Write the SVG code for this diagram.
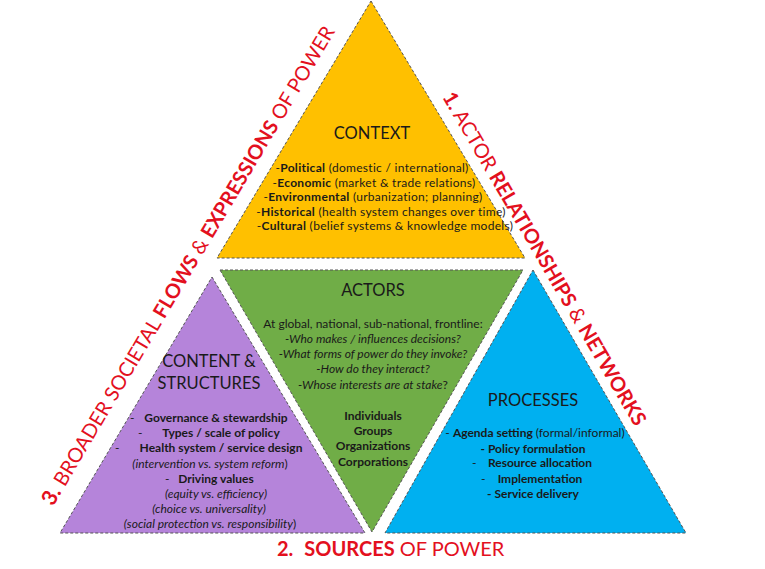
<svg xmlns="http://www.w3.org/2000/svg" width="765" height="569" viewBox="0 0 765 569">
<style>
.tri{stroke:#555;stroke-width:1;stroke-dasharray:3,2}
text{font-family:Lato,"Open Sans","Liberation Sans",sans-serif;fill:#1a1a1a}
.t{font-size:16.5px;text-anchor:middle}
.b{font-size:12px;text-anchor:middle}
.c{font-size:12px;text-anchor:middle;letter-spacing:0.3px}
.s{font-size:12px}
.bo{font-weight:bold}
.it{font-style:italic}
.red{fill:#E3101E;font-size:20px}
</style>
<rect width="765" height="569" fill="#fff"/>
<g id="context">
<polygon class="tri" points="371,1 525,258 217,258" fill="#FFC000"/>
<text class="t" x="372" y="139">CONTEXT</text>
<text class="c" x="372" y="172">-<tspan class="bo">Political</tspan> (domestic / international)</text>
<text class="c" x="374" y="186.5">-<tspan class="bo">Economic</tspan> (market &amp; trade relations)</text>
<text class="c" x="373" y="201">-<tspan class="bo">Environmental</tspan> (urbanization; planning)</text>
<text class="c" x="381" y="215.5">-<tspan class="bo">Historical</tspan> (health system changes over time)</text>
<text class="c" x="385" y="230">-<tspan class="bo">Cultural</tspan> (belief systems &amp; knowledge models)</text>
</g>
<g id="actors">
<polygon class="tri" points="220,270 523,270 372,532" fill="#70AD47"/>
<text class="t" x="373" y="296">ACTORS</text>
<text class="b" x="373" y="328">At global, national, sub-national, frontline:</text>
<text class="b it" x="373" y="343">-Who makes / influences decisions?</text>
<text class="b it" x="373" y="358">-What forms of power do they invoke?</text>
<text class="b it" x="373" y="373">-How do they interact?</text>
<text class="b" x="373" y="389"><tspan class="it">-Whose interests are at stake</tspan>?</text>
<text class="b bo" x="373" y="420">Individuals</text>
<text class="b bo" x="373" y="435">Groups</text>
<text class="b bo" x="373" y="450">Organizations</text>
<text class="b bo" x="373" y="466">Corporations</text>
</g>
<g id="content">
<polygon class="tri" points="212,277 365,533 60,533" fill="#B584DA"/>
<text class="t" x="209" y="367">CONTENT &amp;</text>
<text class="t" x="209" y="389">STRUCTURES</text>
<text class="s" x="130" y="422">-</text>
<text class="b bo" x="216" y="422">Governance &amp; stewardship</text>
<text class="s" x="138" y="437">-</text>
<text class="b bo" x="221" y="437">Types / scale of policy</text>
<text class="s" x="115" y="452">-</text>
<text class="b bo" x="221" y="452">Health system / service design</text>
<text class="b" x="210" y="468"><tspan class="it">(intervention vs. system reform</tspan>)</text>
<text class="s" x="165" y="483">-</text>
<text class="b bo" x="216" y="483">Driving values</text>
<text class="b it" x="216" y="498">(equity vs. efficiency)</text>
<text class="b it" x="209" y="513">(choice vs. universality)</text>
<text class="b" x="210" y="528"><tspan class="it">(social protection vs. responsibility</tspan>)</text>
</g>
<g id="processes">
<polygon class="tri" points="533,270 686,533 385,533" fill="#00B0F0"/>
<text class="t" x="533" y="406">PROCESSES</text>
<text class="b" x="535" y="437">- <tspan class="bo">Agenda setting</tspan> (formal/informal)</text>
<text class="b bo" x="533" y="453">- Policy formulation</text>
<text class="s" x="472" y="467">-</text>
<text class="b bo" x="540" y="467">Resource allocation</text>
<text class="s" x="481" y="483">-</text>
<text class="b bo" x="540" y="483">Implementation</text>
<text class="b bo" x="533" y="498">- Service delivery</text>
</g>
<g id="labels">
<text class="red" font-size="19.2" transform="translate(53,507) rotate(-59.3)"><tspan class="bo" font-size="21.5">3. </tspan> BROADER SOCIETAL <tspan class="bo">FLOWS</tspan> &amp; <tspan class="bo">EXPRESSIONS</tspan> OF POWER</text>
<text class="red" transform="translate(442,97) rotate(59.7)"><tspan class="bo">1.</tspan> ACTOR <tspan class="bo">RELATIONSHIPS</tspan> &amp; <tspan class="bo">NETWORKS</tspan></text>
<text class="red" x="277" y="556" font-size="21"><tspan class="bo">2.</tspan><tspan class="bo" dx="11">SOURCES</tspan> OF POWER</text>
</g>
</svg>
